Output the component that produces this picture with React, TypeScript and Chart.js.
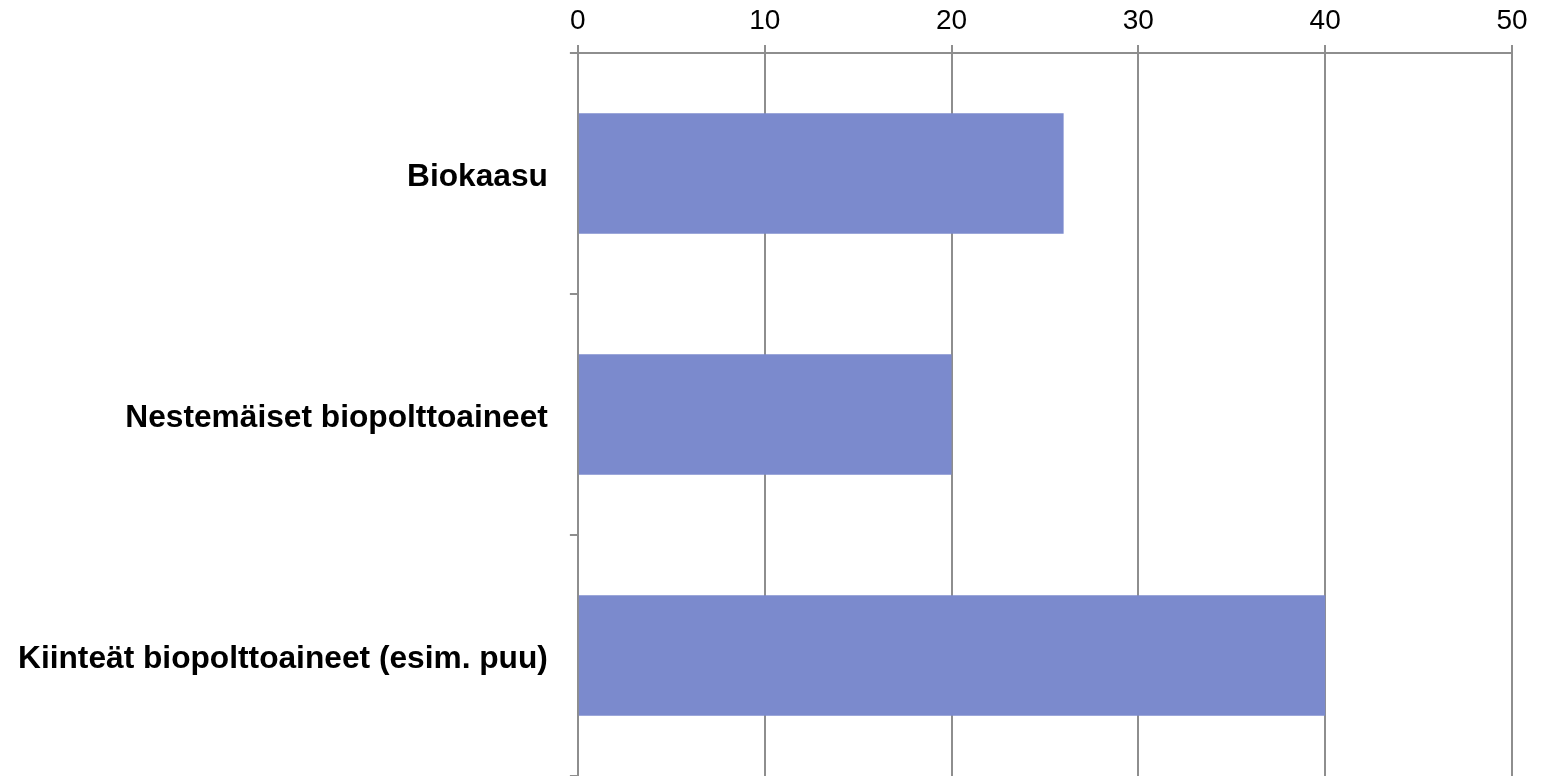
import React, { useEffect, useRef } from "react";
import { Chart, registerables } from "chart.js";

Chart.register(...registerables);

const categories = [
  "Biokaasu",
  "Nestemäiset biopolttoaineet",
  "Kiinteät biopolttoaineet (esim. puu)",
];
const values = [26, 20, 40];
const xTicks = [0, 10, 20, 30, 40, 50];

const GRID = "#8e8e8e";
const BAR = "#7b8acd";
const FONT = "'Liberation Sans', Arial, sans-serif";

export default function App() {
  const ref = useRef<HTMLCanvasElement | null>(null);

  useEffect(() => {
    document.body.style.margin = "0";
    const canvas = ref.current!;
    const chart = new Chart(canvas, {
      type: "bar",
      data: {
        labels: categories,
        datasets: [
          {
            data: values,
            backgroundColor: BAR,
            borderWidth: 0,
            barPercentage: 1,
            categoryPercentage: 0.5,
          },
        ],
      },
      options: {
        indexAxis: "y",
        responsive: false,
        animation: false,
        maintainAspectRatio: false,
        layout: { padding: { left: -4, right: 30, top: -3, bottom: -1 } },
        plugins: {
          legend: { display: false },
          tooltip: { enabled: false },
        },
        scales: {
          x: {
            position: "top",
            min: xTicks[0],
            max: xTicks[xTicks.length - 1],
            afterBuildTicks: (axis: any) => {
              axis.ticks = xTicks.map((v) => ({ value: v }));
            },
            ticks: {
              color: "#000",
              font: { family: FONT, size: 28, lineHeight: 1 },
              padding: 10,
            },
            grid: {
              color: GRID,
              lineWidth: 2,
              tickLength: 8,
              drawTicks: true,
            },
            border: { color: GRID, width: 2 },
          },
          y: {
            offset: true,
            afterFit: (axis: any) => {
              axis.paddingTop = 0;
              axis.paddingBottom = 0;
            },
            ticks: {
              color: "#000",
              font: { family: FONT, size: 31.7, weight: "bold", lineHeight: 0.22 },
              padding: 22,
              callback: function (this: any, value: any) {
                return ["", this.getLabelForValue(value)];
              },
            },
            grid: {
              offset: true,
              color: GRID,
              lineWidth: 2,
              tickLength: 8,
              drawOnChartArea: false,
              drawTicks: true,
            },
            border: { color: GRID, width: 2 },
          },
        },
      },
    });
    return () => chart.destroy();
  }, []);

  return (
    <div style={{ position: "absolute", left: 0, top: 0, width: 1542, height: 776, overflow: "hidden", background: "#fff" }}>
      <canvas ref={ref} width={1542} height={776} style={{ display: "block" }} />
    </div>
  );
}
